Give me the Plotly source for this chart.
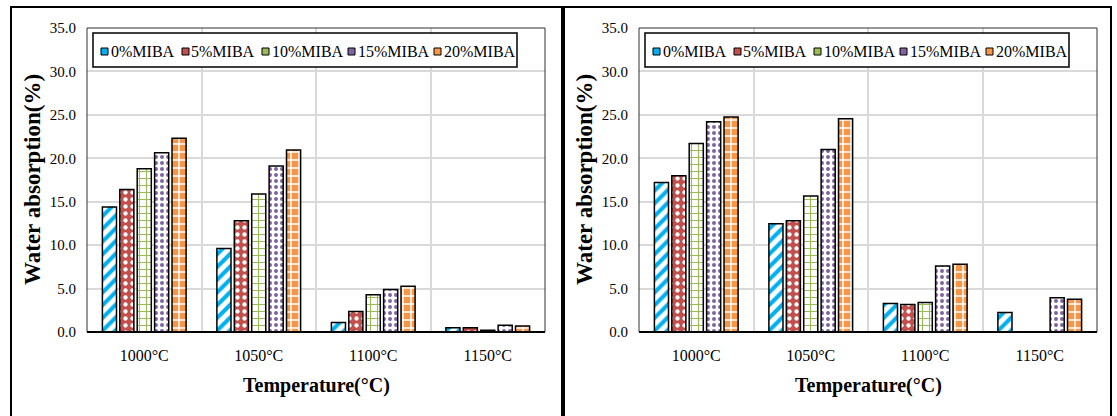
import plotly.graph_objects as go

# ---------------- data ----------------
categories = ["1000°C", "1050°C", "1100°C", "1150°C"]
series_names = ["0%MIBA", "5%MIBA", "10%MIBA", "15%MIBA", "20%MIBA"]

left_0 = [14.4, 9.6, 1.1, 0.5]
left_5 = [16.4, 12.8, 2.35, 0.5]
left_10 = [18.8, 15.9, 4.3, 0.2]
left_15 = [20.65, 19.1, 4.9, 0.77]
left_20 = [22.3, 20.95, 5.27, 0.7]

right_0 = [17.2, 12.45, 3.28, 2.24]
right_5 = [18.0, 12.8, 3.16, 0]
right_10 = [21.7, 15.65, 3.4, 0]
right_15 = [24.2, 21.0, 7.6, 3.93]
right_20 = [24.75, 24.55, 7.8, 3.78]

y_ticks = [0, 5, 10, 15, 20, 25, 30, 35]
x_title = "Temperature(°C)"
y_title = "Water absorption(%)"

left_values = [left_0, left_5, left_10, left_15, left_20]
right_values = [right_0, right_5, right_10, right_15, right_20]

# ---------------- styles ----------------
W, H = 1117, 416
FONT = "Liberation Serif, Times New Roman, serif"
blue, red, green, purple, orange = "#00B0F0", "#C0504D", "#9BBB59", "#8064A2", "#F79646"
colors = [blue, red, green, purple, orange]
patterns = [
    dict(shape="/", fgcolor=blue, bgcolor="white", size=9, solidity=0.45),
    dict(shape=".", fgcolor="white", bgcolor=red, size=7, solidity=0.3),
    dict(shape="+", fgcolor=green, bgcolor="white", size=7, solidity=0.3),
    dict(shape=".", fgcolor=purple, bgcolor="white", size=6, solidity=0.35),
    dict(shape="+", fgcolor="white", bgcolor=orange, size=8, solidity=0.35),
]
# legend layout (pixels, left panel; right panel is shifted by OFFSET)
OFFSET = 552
legend_box = (93, 517, 33, 67)
legend_swatch_x = [101, 182, 262, 348, 434]
legend_text_x = [109, 189, 270, 356, 442]
legend_mid_y = 51


def px_x(p):
    return p / W


def px_y(p):
    return 1 - p / H


fig = go.Figure()

for vals, xa, ya in [(left_values, "x", "y"), (right_values, "x2", "y2")]:
    for name, v, pat in zip(series_names, vals, patterns):
        fig.add_trace(go.Bar(
            x=categories, y=v, name=name, xaxis=xa, yaxis=ya,
            marker=dict(color="white", pattern=dict(fillmode="replace", **pat),
                        line=dict(color="black", width=1.5)),
            showlegend=False,
        ))

y_dom = [px_y(332), px_y(28)]
axis_common_x = dict(
    type="category", range=[-0.5, 3.5], tickson="boundaries",
    showgrid=True, gridcolor="#d9d9d9", gridwidth=1.5,
    showline=False, ticks="", zeroline=False,
    tickfont=dict(family=FONT, size=16, color="black"),
    ticklabelstandoff=12,
)
axis_common_y = dict(
    range=[0, 35], tickvals=y_ticks, tickformat=".1f",
    showgrid=True, gridcolor="#d9d9d9", gridwidth=1.5,
    showline=False, ticks="", zeroline=False,
    tickfont=dict(family=FONT, size=15, color="black"),
    ticklabelstandoff=10,
)

fig.update_layout(
    width=W, height=H, autosize=False,
    margin=dict(l=0, r=0, t=0, b=0, pad=0, autoexpand=False),
    paper_bgcolor="white", plot_bgcolor="white",
    barmode="group", bargap=0.24, bargroupgap=0.19,
    xaxis=dict(domain=[px_x(87), px_x(545)], anchor="y", **axis_common_x),
    yaxis=dict(domain=y_dom, anchor="x", **axis_common_y),
    xaxis2=dict(domain=[px_x(87 + OFFSET), px_x(545 + OFFSET)], anchor="y2", **axis_common_x),
    yaxis2=dict(domain=y_dom, anchor="x2", **axis_common_y),
    showlegend=False,
)

shapes = []
annotations = []
for off in (0, OFFSET):
    # plot-area frame and bottom axis line
    shapes.append(dict(type="rect", xref="paper", yref="paper",
                       x0=px_x(87 + off), x1=px_x(545 + off), y0=px_y(332), y1=px_y(28),
                       line=dict(color="#303030", width=1), layer="above"))
    shapes.append(dict(type="line", xref="paper", yref="paper",
                       x0=px_x(87 + off), x1=px_x(545 + off), y0=px_y(332), y1=px_y(332),
                       line=dict(color="black", width=2), layer="above"))
    # legend box
    lx0, lx1, ly0, ly1 = legend_box
    shapes.append(dict(type="rect", xref="paper", yref="paper",
                       x0=px_x(lx0 + off), x1=px_x(lx1 + off), y0=px_y(ly1), y1=px_y(ly0),
                       line=dict(color="black", width=1.5), fillcolor="white", layer="above"))
    for name, c, sx, tx in zip(series_names, colors, legend_swatch_x, legend_text_x):
        shapes.append(dict(type="rect", xref="paper", yref="paper",
                           x0=px_x(sx + off), x1=px_x(sx + 7 + off),
                           y0=px_y(legend_mid_y + 4), y1=px_y(legend_mid_y - 3),
                           line=dict(color="black", width=1), fillcolor=c, layer="above"))
        annotations.append(dict(text=name, xref="paper", yref="paper",
                                x=px_x(tx + off), y=px_y(legend_mid_y), xanchor="left", yanchor="middle",
                                showarrow=False, font=dict(family=FONT, size=16, color="black")))
    # axis titles
    annotations.append(dict(text=x_title, xref="paper", yref="paper",
                            x=px_x(316 + off), y=px_y(385), xanchor="center", yanchor="middle",
                            showarrow=False, font=dict(family=FONT, size=20, color="black", weight="bold")))
    annotations.append(dict(text=y_title, xref="paper", yref="paper", textangle=-90,
                            x=px_x(32 + off), y=px_y(180), xanchor="center", yanchor="middle",
                            showarrow=False, font=dict(family=FONT, size=23, color="black", weight="bold")))

# outer panel borders
for (x0, x1) in [(11, 562), (564, 1111)]:
    shapes.append(dict(type="rect", xref="paper", yref="paper",
                       x0=px_x(x0), x1=px_x(x1), y0=px_y(430), y1=px_y(7),
                       line=dict(color="black", width=2)))

fig.update_layout(shapes=shapes, annotations=annotations)

fig.write_html("out.html", config={"displayModeBar": False},
               post_script="document.body.style.margin='0px';")
